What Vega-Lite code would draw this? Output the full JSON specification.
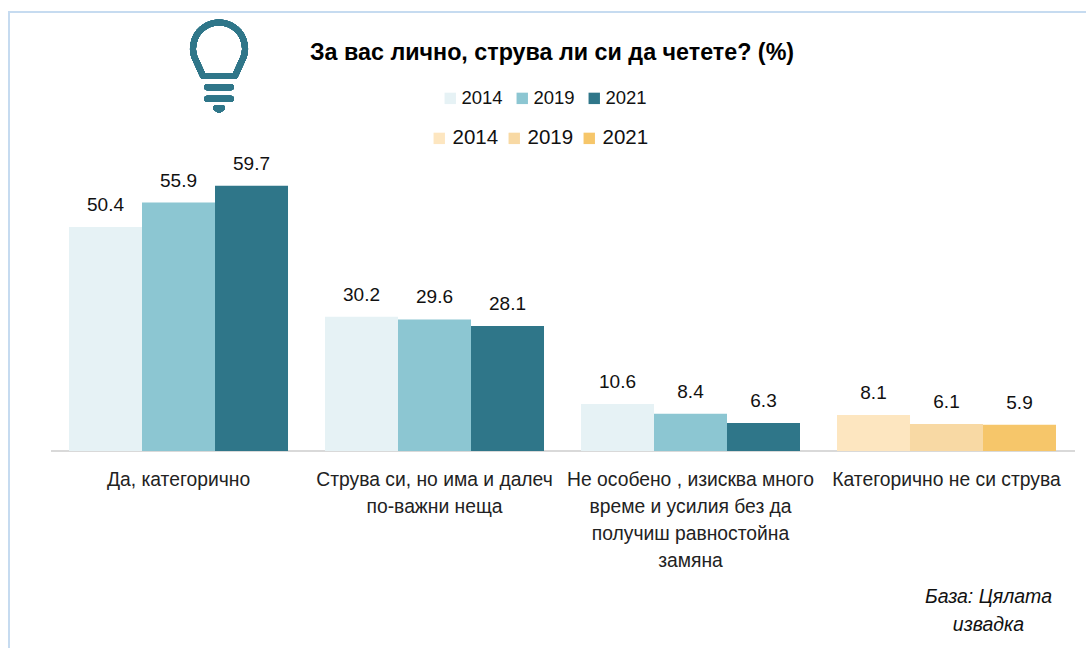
{
  "$schema": "https://vega.github.io/schema/vega-lite/v6.json",
  "width": 1078,
  "height": 637,
  "padding": {"left": 9, "top": 12, "right": 0, "bottom": 0},
  "autosize": "none",
  "background": "white",
  "title": {
    "text": "За вас лично, струва ли си да  четете? (%)",
    "anchor": "start",
    "frame": "group",
    "offset": 0,
    "dx": 301,
    "dy": 53,
    "font": "Liberation Sans",
    "fontSize": 23.3,
    "fontWeight": "bold",
    "color": "#000000"
  },
  "config": {
    "view": {"stroke": "#c6dbf0", "strokeWidth": 2},
    "font": "Liberation Sans",
    "text": {"font": "Liberation Sans"}
  },
  "data": {
    "values": [
      {"category": "Да, категорично", "year": "2014", "value": 50.4, "group": "a"},
      {"category": "Да, категорично", "year": "2019", "value": 55.9, "group": "a"},
      {"category": "Да, категорично", "year": "2021", "value": 59.7, "group": "a"},
      {"category": "Струва си, но има и далеч|по-важни неща", "year": "2014", "value": 30.2, "group": "a"},
      {"category": "Струва си, но има и далеч|по-важни неща", "year": "2019", "value": 29.6, "group": "a"},
      {"category": "Струва си, но има и далеч|по-важни неща", "year": "2021", "value": 28.1, "group": "a"},
      {"category": "Не особено  , изисква много|време и усилия без да|получиш равностойна|замяна", "year": "2014", "value": 10.6, "group": "a"},
      {"category": "Не особено  , изисква много|време и усилия без да|получиш равностойна|замяна", "year": "2019", "value": 8.4, "group": "a"},
      {"category": "Не особено  , изисква много|време и усилия без да|получиш равностойна|замяна", "year": "2021", "value": 6.3, "group": "a"},
      {"category": "Категорично не си струва", "year": "2014", "value": 8.1, "group": "b"},
      {"category": "Категорично не си струва", "year": "2019", "value": 6.1, "group": "b"},
      {"category": "Категорично не си струва", "year": "2021", "value": 5.9, "group": "b"}
    ]
  },
  "encoding": {
    "x": {
      "field": "category",
      "type": "nominal",
      "sort": null,
      "scale": {"range": [41.5, 1065.5], "paddingInner": 0.1445, "paddingOuter": 0.0723},
      "axis": {
        "title": ["База: Цялата", "извадка"],
        "titleFont": "Liberation Sans",
        "titleFontSize": 19.5,
        "titleFontStyle": "italic",
        "titleFontWeight": "normal",
        "titleColor": "#111111",
        "titleX": 979,
        "titleY": 152,
        "titleLineHeight": 28,
        "titleBaseline": "alphabetic",
        "offset": -198.5,
        "labelExpr": "split(datum.value, '|')",
        "labelAngle": 0,
        "labelFont": "Liberation Sans",
        "labelFontSize": 19.3,
        "labelColor": "#222222",
        "labelLineHeight": 27,
        "labelPadding": 20,
        "labelLimit": 400,
        "labelOverlap": false,
        "labelBound": false,
        "labelFlush": false,
        "ticks": false,
        "grid": false,
        "domainColor": "#d9d9d9",
        "domainWidth": 2
      }
    },
    "xOffset": {"field": "year", "type": "nominal", "scale": {"paddingInner": 0, "paddingOuter": 0}},
    "y": {
      "field": "value",
      "type": "quantitative",
      "scale": {"domain": [0, 63], "range": [439, 159]},
      "axis": null
    }
  },
  "layer": [
    {
      "transform": [{"filter": "datum.group === 'a'"}],
      "mark": {"type": "bar"},
      "encoding": {
        "color": {
          "field": "year",
          "type": "nominal",
          "scale": {"domain": ["2014", "2019", "2021"], "range": ["#e6f2f5", "#8cc6d2", "#2f7689"]},
          "legend": {
            "title": null,
            "orient": "none",
            "direction": "horizontal",
            "columns": 3,
            "legendX": 432,
            "legendY": 77,
            "symbolType": "square",
            "symbolSize": 130,
            "symbolStrokeWidth": 0,
            "labelFont": "Liberation Sans",
            "labelFontSize": 18.5,
            "labelColor": "#111111",
            "labelOffset": 2,
            "columnPadding": 10
          }
        }
      }
    },
    {
      "transform": [{"filter": "datum.group === 'b'"}],
      "mark": {"type": "bar"},
      "encoding": {
        "color": {
          "field": "year",
          "type": "nominal",
          "scale": {"domain": ["2014", "2019", "2021"], "range": ["#fde6c0", "#f8d9a4", "#f6c66a"]},
          "legend": {
            "title": null,
            "orient": "none",
            "direction": "horizontal",
            "columns": 3,
            "legendX": 420,
            "legendY": 116,
            "symbolType": "square",
            "symbolSize": 130,
            "symbolStrokeWidth": 0,
            "labelFont": "Liberation Sans",
            "labelFontSize": 20.5,
            "labelColor": "#111111",
            "labelOffset": 3,
            "columnPadding": 5
          }
        }
      }
    },
    {
      "mark": {"type": "text", "dy": -16, "baseline": "alphabetic", "fontSize": 19, "color": "#111111", "font": "Liberation Sans"},
      "encoding": {
        "text": {"field": "value", "type": "quantitative", "format": ".1f"}
      }
    },
    {
      "mark": {
        "type": "point",
        "filled": false,
        "stroke": "#2f7689",
        "strokeWidth": 6,
        "strokeCap": "round",
        "strokeJoin": "round",
        "opacity": 1,
        "size": 8836,
        "shape": "M -0.34 0.21 L 0.34 0.21 L 0.48 -0.1 A 0.553 0.553 0 1 0 -0.48 -0.1 Z M -0.25 0.45 L 0.25 0.45 M -0.25 0.695 L 0.25 0.695 M -0.06 0.89 L 0.06 0.89 L 0 0.93 Z"
      },
      "encoding": {
        "x": {"datum": "Да, категорично"},
        "xOffset": {"value": 150},
        "y": {"datum": 86.6}
      }
    }
  ],
  "resolve": {"scale": {"color": "independent"}}
}
